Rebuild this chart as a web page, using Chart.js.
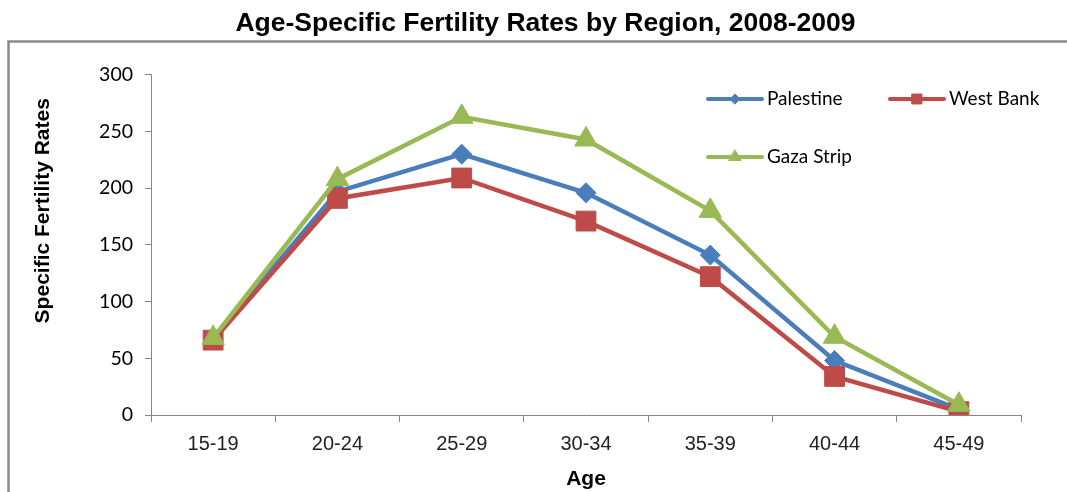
<!DOCTYPE html>
<html>
<head>
<meta charset="utf-8">
<script src="https://cdn.jsdelivr.net/npm/chart.js@4/dist/chart.umd.min.js"></script>
<style>
    body { margin: 0; background: #fff; }
    canvas { display: block; }
</style>
</head>
<body>
<canvas id="myChart" width="1067" height="492"></canvas>
<script>
// data
const ageGroups = ['15-19', '20-24', '25-29', '30-34', '35-39', '40-44', '45-49'];
const palestine = [67, 197, 230, 196, 141, 48, 5];
const westBank = [66, 191, 209, 171, 122, 34, 3];
const gazaStrip = [68, 208, 263, 243, 180, 69, 9];
const yTicks = [0, 50, 100, 150, 200, 250, 300];

const blue = '#4A7EBB';
const red = '#BE4B48';
const green = '#98B954';

// grey frame round the plot, title sits above it
const framePlugin = {
    id: 'frame',
    beforeDraw(chart) {
        const ctx = chart.ctx;
        ctx.save();
        ctx.strokeStyle = '#8a8a8a';
        ctx.lineWidth = 2.5;
        ctx.beginPath();
        ctx.moveTo(8.5, 492);
        ctx.lineTo(8.5, 41.5);
        ctx.lineTo(1067, 41.5);
        ctx.stroke();
        ctx.restore();
    }
};

// legend laid out like the excel one, inside the plot
const legendPlugin = {
    id: 'excelLegend',
    afterDraw(chart) {
        const ctx = chart.ctx;
        const spots = [
            { x: 708, y: 99, r: 5 },
            { x: 890, y: 99, r: 7 },
            { x: 708, y: 157, r: 7 }
        ];
        ctx.save();
        chart.data.datasets.forEach((ds, i) => {
            const p = spots[i];
            ctx.strokeStyle = ds.borderColor;
            ctx.lineWidth = 4;
            ctx.lineCap = 'round';
            ctx.beginPath();
            ctx.moveTo(p.x, p.y);
            ctx.lineTo(p.x + 54, p.y);
            ctx.stroke();
            ctx.fillStyle = ds.backgroundColor;
            ctx.lineWidth = 1;
            Chart.helpers.drawPoint(ctx, { pointStyle: ds.pointStyle, radius: p.r, borderWidth: 1 }, p.x + 27, p.y);
            ctx.fillStyle = '#000';
            ctx.font = '19px Lato';
            ctx.textBaseline = 'middle';
            ctx.textAlign = 'left';
            ctx.fillText(ds.label, p.x + 59, p.y);
        });
        ctx.restore();
    }
};

const data = {
    labels: ageGroups,
    datasets: [{
        label: 'Palestine',
        data: palestine,
        borderColor: blue,
        backgroundColor: blue,
        pointStyle: 'rectRot',
        pointRadius: 10,
        order: 2
    }, {
        label: 'West Bank',
        data: westBank,
        borderColor: red,
        backgroundColor: red,
        pointStyle: 'rect',
        pointRadius: 14,
        order: 1
    }, {
        label: 'Gaza Strip',
        data: gazaStrip,
        borderColor: green,
        backgroundColor: green,
        pointStyle: 'triangle',
        pointRadius: 13,
        order: 0
    }]
};
data.datasets.forEach(ds => {
    ds.borderWidth = 4.5;
    ds.pointBorderWidth = 1;
    ds.tension = 0;
});

const config = {
    type: 'line',
    data: data,
    options: {
        responsive: false,
        animation: false,
        layout: { padding: { left: 24, right: 0, top: 0, bottom: 0 } },
        plugins: {
            legend: { display: false },
            tooltip: { enabled: false },
            title: {
                display: true,
                text: 'Age-Specific Fertility Rates by Region, 2008-2009',
                color: '#000',
                font: { family: 'Liberation Sans', size: 26.5, weight: 'bold' },
                padding: { top: 8, bottom: 35 }
            }
        },
        scales: {
            x: {
                offset: true,
                grid: { drawOnChartArea: false, offset: true, tickLength: 7, color: '#868686' },
                border: { color: '#868686' },
                ticks: { color: '#222', padding: 10, font: { family: 'Liberation Sans', size: 20 } },
                title: {
                    display: true,
                    text: 'Age',
                    color: '#000',
                    font: { family: 'Liberation Sans', size: 21, weight: 'bold' },
                    padding: { top: 0, bottom: 0 }
                },
                afterFit(scale) { scale.height = 77; }
            },
            y: {
                min: 0,
                max: 300,
                afterBuildTicks(scale) { scale.ticks = yTicks.map(v => ({ value: v })); },
                grid: { drawOnChartArea: false, tickLength: 6, color: '#868686' },
                border: { color: '#868686' },
                ticks: { color: '#000', padding: 12, font: { family: 'Lato', size: 19.5 } },
                title: {
                    display: true,
                    align: 'end',
                    // trailing spaces keep it a bit below the top, as in the original
                    text: 'Specific Fertility Rates    ',
                    color: '#000',
                    font: { family: 'Liberation Sans', size: 21, weight: 'bold' },
                    padding: { top: 7, bottom: 0 }
                },
                afterFit(scale) { scale.width = 127; }
            },
            yRight: {
                position: 'right',
                grid: { display: false },
                border: { display: false },
                ticks: { display: false },
                afterFit(scale) { scale.width = 46; }
            }
        }
    },
    plugins: [framePlugin, legendPlugin]
};

let myChart = new Chart(document.getElementById('myChart'), config);
</script>
</body>
</html>
